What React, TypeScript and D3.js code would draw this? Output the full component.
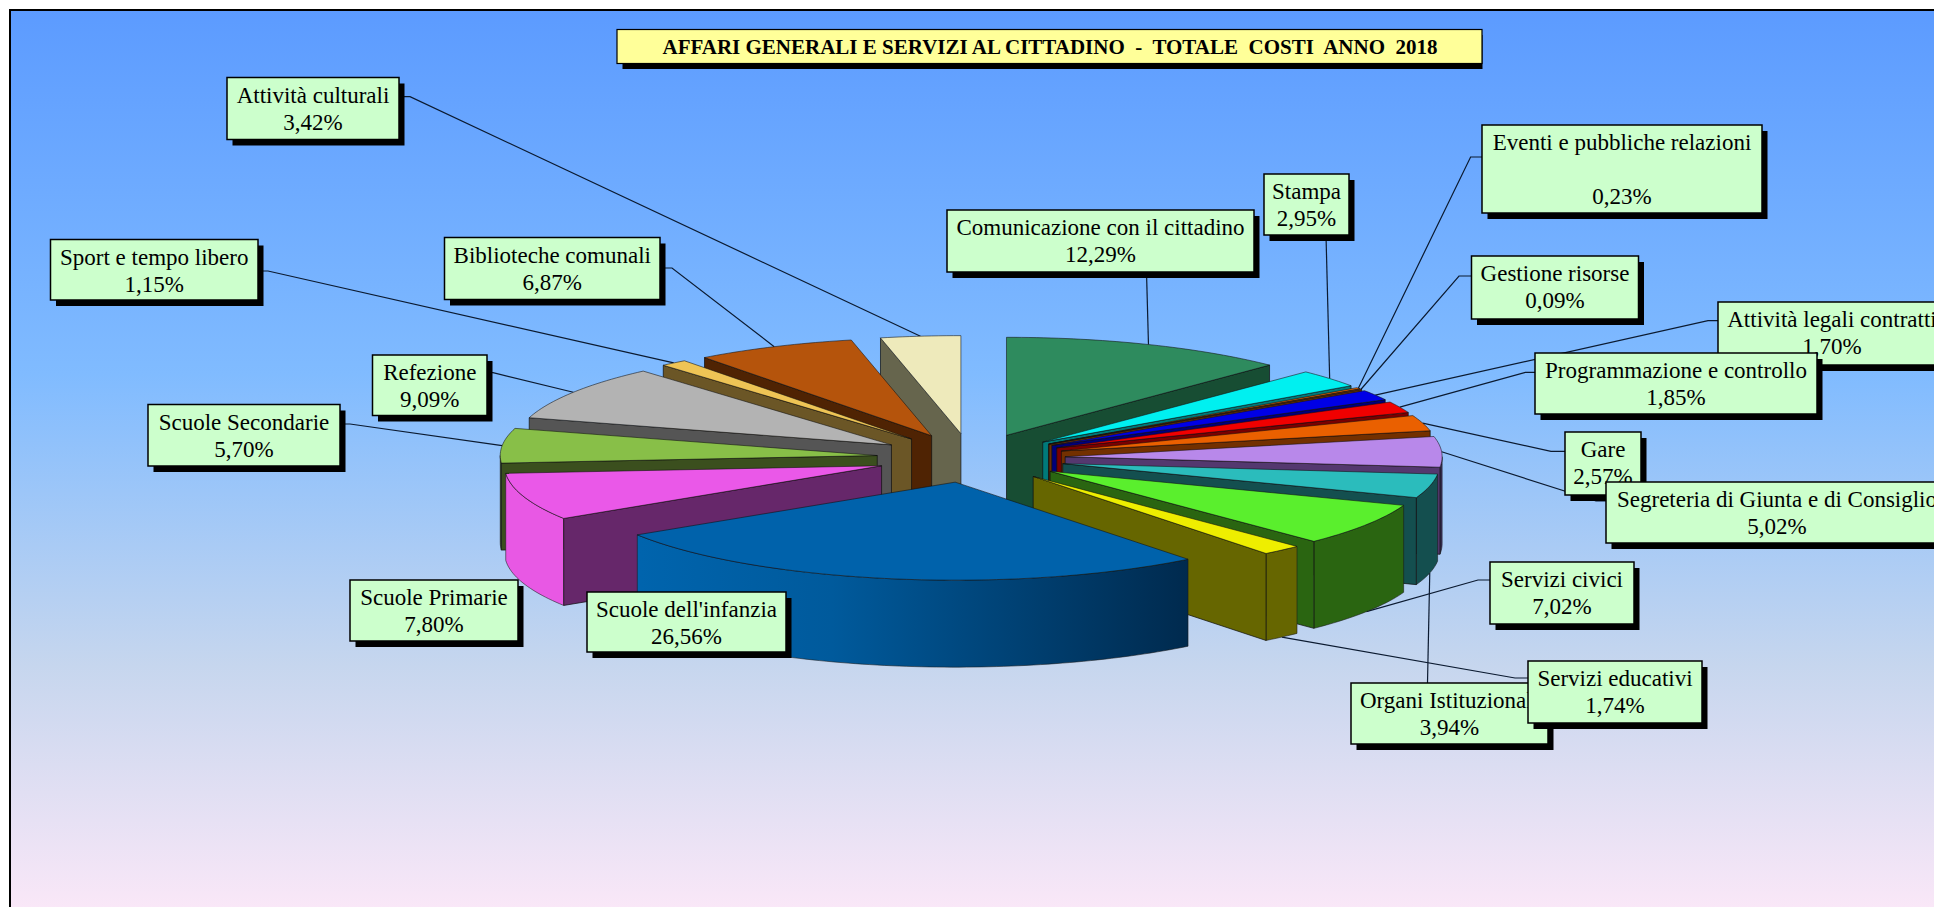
import React from "react";
import * as d3 from "d3";

const categories = ["Comunicazione con il cittadino","Stampa","Eventi e pubbliche relazioni","Gestione risorse","Attività legali contratti","Programmazione e controllo","Gare","Segreteria di Giunta e di Consiglio","Organi Istituzionali","Servizi civici","Servizi educativi","Scuole dell'infanzia","Scuole Primarie","Scuole Secondarie","Refezione","Sport e tempo libero","Biblioteche comunali","Attività culturali"];
const values = [12.29,2.95,0.23,0.09,1.70,1.85,2.57,5.02,3.94,7.02,1.74,26.56,7.80,5.70,9.09,1.15,6.87,3.42];
const topColors = ["#2e8b5e","#00f0f0","#e06000","#d86000","#0000e6","#f00000","#ea6000","#b888ea","#2bbcbc","#5aef2d","#eeee00","#0062ab","#ea58e8","#88bf48","#b3b3b3","#eec455","#b5540c","#eeeabb"];
const sideColors = ["#174d33","#007a7a","#703000","#6c3000","#00007a","#7a0000","#733000","#54386f","#144f4f","#2a6511","#666600","#00406f","#66276a","#3b4f1e","#555555","#6b5626","#4f2303","#66654d"];
const wallColors = ["#174d33","#007a7a","#703000","#6c3000","#00007a","#7a0000","#733000","#3a2f5a","#144f4f","#2a6511","#666600","url(#wallBlue)","#e858e4","#3b4f1e","#555555","#6b5626","#4f2303","#66654d"];
const title = "AFFARI GENERALI E SERVIZI AL CITTADINO  -  TOTALE  COSTI  ANNO  2018";

type Box = { x: number; y: number; w: number; h: number; hook?: [number, number][] };
const boxes: Box[] = [
  { x: 947, y: 210, w: 307, h: 62, hook: [[1146.5, 272]] },
  { x: 1264, y: 174, w: 85, h: 61, hook: [[1326, 235]] },
  { x: 1482, y: 125, w: 280, h: 88, hook: [[1482, 157], [1470.6, 157]] },
  { x: 1471.5, y: 256, w: 167, h: 63, hook: [[1471.5, 276], [1459, 276]] },
  { x: 1718, y: 302, w: 228, h: 63, hook: [[1718, 320.7], [1708, 320.7]] },
  { x: 1535, y: 353, w: 282, h: 61, hook: [[1535, 372.3], [1525.4, 372.3]] },
  { x: 1565, y: 432, w: 76, h: 63, hook: [[1565, 451.3], [1551, 451.3]] },
  { x: 1606, y: 482, w: 342, h: 61, hook: [[1606, 501], [1596, 501]] },
  { x: 1351, y: 683, w: 197, h: 61, hook: [[1427.5, 683]] },
  { x: 1490, y: 562, w: 144, h: 62, hook: [[1490, 580], [1478, 580]] },
  { x: 1528, y: 661, w: 174, h: 62, hook: [[1528, 678], [1515, 678]] },
  { x: 587, y: 592, w: 199, h: 60 },
  { x: 350, y: 580, w: 168, h: 61 },
  { x: 148, y: 404.5, w: 192, h: 61.5, hook: [[340, 424], [350, 424]] },
  { x: 372.5, y: 355, w: 114.5, h: 60.5, hook: [[487, 372.7], [493, 372.7]] },
  { x: 50.5, y: 239.5, w: 207.5, h: 60.5, hook: [[258, 271], [268, 271]] },
  { x: 444.5, y: 237.5, w: 215.5, h: 62, hook: [[660, 268], [672, 268]] },
  { x: 227, y: 77.5, w: 172, h: 62, hook: [[399, 96.7], [410, 96.7]] },
];
const boxOrder = [0, 1, 2, 3, 4, 5, 6, 7, 8, 9, 10, 11, 12, 13, 14, 15, 16, 17];

const CX = 971, CY = 458, RX = 377, RY = 98, DEPTH = 87, EXPLODE = 0.25;
const px = d3.scaleLinear().domain([-1, 1]).range([CX - RX, CX + RX]);
const py = d3.scaleLinear().domain([-1, 1]).range([CY - RY, CY + RY]);
const pct = (v: number) => v.toFixed(2).replace(".", ",") + "%";

type P = [number, number];
const arcs = d3.pie<number>().sort(null).value((d) => d)(values);
const line = d3.line<P>();
const TAU = Math.PI * 2;

function sliceGeom(a: any, i: number) {
  const mid = (a.startAngle + a.endAngle) / 2;
  const ox = px(EXPLODE * Math.sin(mid)) - CX;
  const oy = py(-EXPLODE * Math.cos(mid)) - CY;
  const pt = (t: number, r = 1): P => [px(r * Math.sin(t)) + ox, py(-r * Math.cos(t)) + oy];
  const arcPts = (t0: number, t1: number): P[] => {
    const n = Math.max(2, Math.ceil((t1 - t0) / 0.02));
    return d3.range(n + 1).map((k) => pt(t0 + ((t1 - t0) * k) / n));
  };
  const drop = (p: P): P => [p[0], p[1] + DEPTH];
  const apex = pt(0, 0);
  const top = [apex, ...arcPts(a.startAngle, a.endAngle)];
  const faces: P[][] = [];
  if (a.endAngle <= Math.PI) {
    const e = pt(a.endAngle);
    faces.push([apex, e, drop(e), drop(apex)]);
  }
  if (a.startAngle >= Math.PI) {
    const s = pt(a.startAngle);
    faces.push([apex, s, drop(s), drop(apex)]);
  }
  let wall: P[] | null = null;
  const w0 = Math.max(a.startAngle, Math.PI / 2);
  const w1 = Math.min(a.endAngle, (3 * Math.PI) / 2);
  if (w1 > w0) {
    const u = arcPts(w0, w1);
    wall = [...u, ...u.slice().reverse().map(drop)];
  }
  const outer = pt(mid);
  const anchor: P = Math.cos(mid) < 0 ? drop(outer) : outer;
  return { i, mid, top, faces, wall, anchor };
}

const geoms = arcs.map(sliceGeom);
const order = geoms.slice().sort((a, b) => Math.abs(b.mid - Math.PI) - Math.abs(a.mid - Math.PI));

const SERIF = "'Liberation Serif','Times New Roman',serif";

function labelLines(i: number): string[] {
  if (i === 2) return [categories[i], "", pct(values[i])];
  return [categories[i], pct(values[i])];
}

export default function App() {
  return (
    <svg width={1934} height={907} style={{ position: "absolute", left: 0, top: 0, display: "block" }}>
      <defs>
        <linearGradient id="bg" x1="0" y1="0" x2="0" y2="1">
          <stop offset="0" stopColor="#5c9bff" />
          <stop offset="0.4" stopColor="#80bbff" />
          <stop offset="0.72" stopColor="#c6d6ee" />
          <stop offset="1" stopColor="#fce8f8" />
        </linearGradient>
        <linearGradient id="wallBlue" gradientUnits="userSpaceOnUse" x1={640} y1={0} x2={1188} y2={0}>
          <stop offset="0" stopColor="#0064ad" />
          <stop offset="0.35" stopColor="#005a9c" />
          <stop offset="1" stopColor="#002a4e" />
        </linearGradient>
      </defs>
      <rect x={10} y={10} width={1940} height={910} fill="url(#bg)" stroke="#000" strokeWidth={2} />

      <g>
        {geoms.map((g) => {
          const b = boxes[g.i];
          if (!b.hook) return null;
          return (
            <path key={g.i} d={line([...b.hook, g.anchor]) || ""} fill="none" stroke="#0b1a30" strokeWidth={1.2} />
          );
        })}
      </g>

      <g strokeLinejoin="round">
        {order.map((g) => (
          <g key={g.i}>
            {g.wall && <path d={(line(g.wall) || "") + "Z"} fill={wallColors[g.i]} stroke="#1a1a1a" strokeWidth={0.8} strokeOpacity={0.7} />}
            {g.faces.map((f, k) => (
              <path key={k} d={(line(f) || "") + "Z"} fill={sideColors[g.i]} stroke="#111" strokeWidth={0.9} strokeOpacity={0.8} />
            ))}
            <path d={(line(g.top) || "") + "Z"} fill={topColors[g.i]} stroke="#111" strokeWidth={0.8} strokeOpacity={0.7} />
          </g>
        ))}
      </g>

      <g>
        <rect x={622.5} y={35} width={860} height={34} fill="#000" />
        <rect x={617} y={29.5} width={865} height={34} fill="#ffff99" stroke="#000" strokeWidth={1.2} />
        <text x={1050} y={54} textAnchor="middle" fontFamily={SERIF} fontWeight="bold" fontSize={21} fill="#000" style={{ whiteSpace: "pre" }}>{title}</text>
      </g>

      {boxOrder.map((i) => {
        const b = boxes[i];
        return (
          <g key={i}>
            <rect x={b.x + 5.5} y={b.y + 6} width={b.w} height={b.h} fill="#000" />
            <rect x={b.x} y={b.y} width={b.w} height={b.h} fill="#ccffcc" stroke="#000" strokeWidth={1.5} />
            {labelLines(i).map((t, k) => (
              <text key={k} x={b.x + b.w / 2} y={b.y + 25 + k * 27} textAnchor="middle" fontFamily={SERIF} fontSize={23} fill="#000">{t}</text>
            ))}
          </g>
        );
      })}
    </svg>
  );
}
